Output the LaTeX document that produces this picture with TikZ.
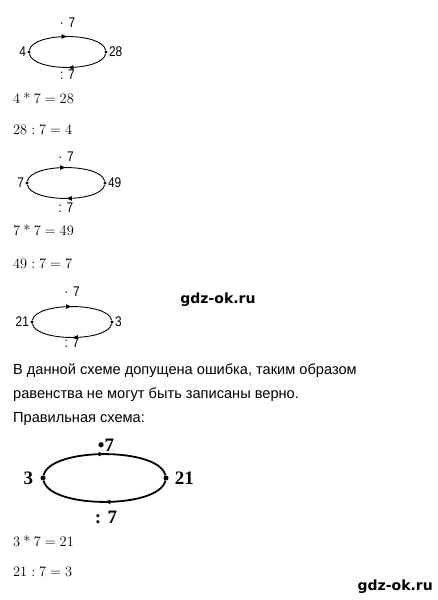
\documentclass[tikz,border=0pt]{standalone}
\usepackage{fontspec}
\newfontfamily\rufont{Liberation Sans}
\newfontfamily\numfont[FakeStretch=0.85]{Liberation Sans}
\newfontfamily\bserif{Liberation Serif}
\newfontfamily\wmfont{DejaVu Sans}
\usetikzlibrary{arrows.meta, calc, positioning, decorations.markings}
\newcommand{\tstar}{\mathbin{\hbox{*}}}
\tikzset{
    dotpt/.style = {circle, fill=black, inner sep=1.2pt},
    midarrow/.style = {postaction={decorate}, decoration={markings,
        mark=at position 0.5 with {\arrow{Latex[length=6pt, width=5pt]}}}},
    smalllbl/.style = {font=\numfont\fontsize{14}{14}\selectfont, inner sep=0pt},
    biglbl/.style = {font=\bserif\bfseries\fontsize{19}{19}\selectfont, inner sep=0pt},
    eqline/.style = {font=\fontsize{14.5}{15}\selectfont, anchor=base west, inner sep=0pt},
    rutext/.style = {font=\rufont\fontsize{14.6}{16}\selectfont, anchor=base west, inner sep=0pt},
    wmark/.style = {font=\wmfont\bfseries\fontsize{14}{15}\selectfont, inner sep=0pt}
}
\begin{document}
\begin{tikzpicture}[x=1pt, y=-1pt]
    \useasboundingbox (0,0) rectangle (437,600);
    % small schemes
    \foreach \i/\xa/\xb/\y/\l/\r/\t/\b in {1/29/106/52/4/28/29/23, 2/27/105/183/7/49/26/25, 3/32/112/322/21/3/30/21}{
        \node[dotpt] (A\i) at (\xa,\y) {};
        \node[dotpt] (B\i) at (\xb,\y) {};
        \node[smalllbl, left=1pt of A\i] (L\i) {\l};
        \node[smalllbl, right=1pt of B\i] (R\i) {\r};
        \node[smalllbl] (T\i) at ($(A\i)!0.5!(B\i) + (0,-\t)$) {·\,\,7};
        \node[smalllbl] (U\i) at ($(A\i)!0.5!(B\i) + (0,\b)$) {:\,\,7};
        \draw[line width=0.9pt, midarrow] (A\i) .. controls ($(A\i)+(4,-20)$) and ($(B\i)+(-4,-20)$) .. (B\i);
        \draw[line width=0.9pt, midarrow] (B\i) .. controls ($(B\i)+(-4,20)$) and ($(A\i)+(4,20)$) .. (A\i);
    }
    \node[eqline] (E1) at (13,103.5) {$4\tstar7=28$};
    \node[eqline] (E2) at (13,134.5) {$28:7=4$};
    \node[eqline] (E3) at (13,235.5) {$7\tstar7=49$};
    \node[eqline] (E4) at (13,268.5) {$49:7=7$};
    \node[wmark] (W1) at (218,300) {gdz-ok.ru};
    \node[rutext] (R1) at (13,374) {В данной схеме допущена ошибка, таким образом};
    \node[rutext] (R2) at (13,398) {равенства не могут быть записаны верно.};
    \node[rutext] (R3) at (13,422) {Правильная схема:};
    % right scheme
    \node[dotpt, inner sep=1.8pt] (A4) at (43,478) {};
    \node[dotpt, inner sep=1.8pt] (B4) at (166,478) {};
    \node[biglbl, left=7pt of A4] (L4) {3};
    \node[biglbl, right=6pt of B4] (R4) {21};
    \node[biglbl] (T4) at (106,445) {•7};
    \node[biglbl] (U4) at (106,517) {: 7};
    \draw[line width=1.8pt, midarrow] (A4) .. controls ($(A4)+(7,-31)$) and ($(B4)+(-7,-31)$) .. (B4);
    \draw[line width=1.8pt, midarrow] (B4) .. controls ($(B4)+(-7,31)$) and ($(A4)+(7,31)$) .. (A4);
    \node[eqline] (E5) at (13,546.5) {$3\tstar7=21$};
    \node[eqline] (E6) at (13,576.5) {$21:7=3$};
    \node[wmark, anchor=east] (W2) at (433,587) {gdz-ok.ru};
\end{tikzpicture}
\end{document}
